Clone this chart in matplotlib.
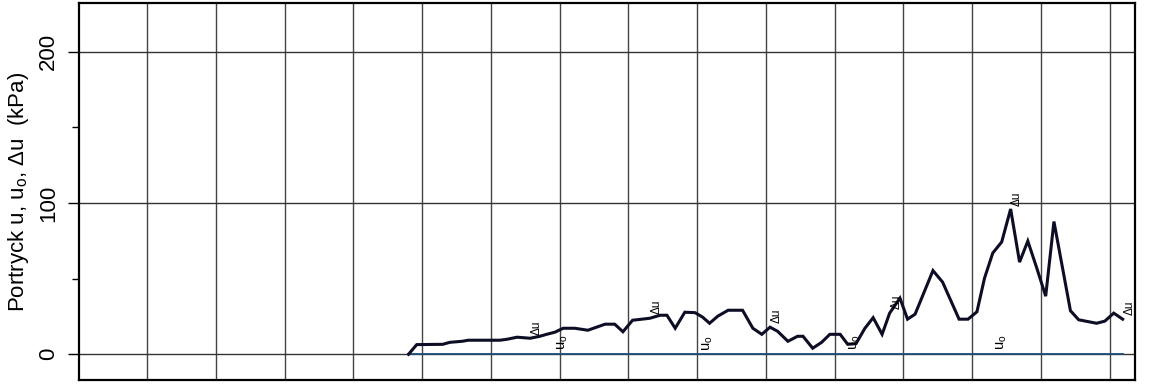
import matplotlib
matplotlib.use("Agg")
import matplotlib.pyplot as plt
from matplotlib.ticker import MultipleLocator

plt.rcParams['font.family'] = ['Liberation Sans', 'DejaVu Sans']
plt.rcParams['mathtext.fontset'] = 'custom'
plt.rcParams['mathtext.rm'] = 'Liberation Sans'
plt.rcParams['mathtext.it'] = 'Liberation Sans'

# Depth (m) and measured pore pressure u (kPa)
depth = [4.80, 4.92, 5.30, 5.40, 5.58, 5.67, 6.13, 6.23, 6.38, 6.57, 6.71, 6.81,
         6.93, 7.05, 7.22, 7.41, 7.66, 7.80, 7.92, 8.06, 8.31, 8.46, 8.56, 8.68,
         8.82, 8.97, 9.08, 9.18, 9.30, 9.45, 9.66, 9.81, 9.94, 10.06, 10.17, 10.32,
         10.46, 10.54, 10.68, 10.81, 10.93, 11.08, 11.19, 11.31, 11.44, 11.56, 11.69,
         11.80, 11.95, 12.06, 12.17, 12.43, 12.57, 12.81, 12.94, 13.07, 13.18, 13.30,
         13.43, 13.56, 13.69, 13.81, 13.94, 14.07, 14.19, 14.43, 14.55, 14.81, 14.93,
         15.06, 15.19]
u = [0.0, 6.4, 6.6, 7.9, 8.6, 9.3, 9.3, 9.9, 11.3, 10.6, 11.9, 13.2,
     14.6, 17.2, 17.2, 15.9, 19.9, 19.9, 14.9, 22.5, 23.8, 25.8, 25.8, 17.2,
     27.8, 27.5, 24.5, 20.5, 25.2, 29.1, 29.1, 17.2, 13.2, 17.9, 15.2, 8.6,
     11.9, 11.9, 4.0, 7.9, 13.2, 13.2, 6.6, 7.0, 17.2, 24.2, 13.2,
     27.2, 37.1, 23.2, 26.5, 55.3, 47.7, 23.2, 23.2, 28.1, 50.3, 66.9,
     74.2, 96.0, 60.9, 74.8, 57.0, 38.4, 87.7, 28.8, 22.8, 20.5, 21.9,
     27.2, 23.2]

# Hydrostatic pore pressure u0 (kPa)
u0_depth = [4.80, 15.19]
u0 = [0.0, 0.0]

# Curve annotations
du_label_depth = [6.67, 8.41, 10.16, 11.90, 13.65, 15.29]
du_label_value = [17.5, 31.5, 25.2, 35.0, 103.0, 30.5]
u0_label_depth = [7.05, 9.16, 11.29, 13.43]
u0_label_value = [7.9, 7.3, 7.9, 7.9]

fig = plt.figure(figsize=(11.5, 3.87), dpi=100)
ax = fig.add_axes([0.0683, 0.018, 0.9187, 0.974])

ax.set_xlim(0, 15.37)
ax.set_ylim(-17, 232)

# grid
for xg in range(1, 16):
    ax.axvline(xg, color='#444444', lw=1.0, zorder=1)
for yg in (0, 100, 200):
    ax.axhline(yg, color='#333333', lw=1.0, zorder=1)

ax.plot(u0_depth, u0, color='#1f4e79', lw=1.3, zorder=2)
ax.plot(depth, u, color='#0d0d26', lw=2.2, zorder=3, solid_joinstyle='miter')

for x, y in zip(du_label_depth, du_label_value):
    ax.text(x, y, 'Δu', rotation=90, fontsize=8.5, ha='center', va='center', zorder=4)
for x, y in zip(u0_label_depth, u0_label_value):
    ax.text(x, y, 'u$_\\mathrm{o}$', rotation=90, fontsize=10.5, ha='center', va='center', zorder=4)

ax.yaxis.set_major_locator(MultipleLocator(100))
ax.yaxis.set_minor_locator(MultipleLocator(50))
ax.tick_params(axis='y', which='major', direction='out', length=8, width=1.0,
               labelsize=16, pad=6, colors='black')
ax.tick_params(axis='y', which='minor', direction='out', length=5, width=1.0)
for lab in ax.get_yticklabels():
    lab.set_rotation(90)
    lab.set_va('center')
ax.set_xticks([])

ax.set_ylabel('Portryck u, u$_\\mathrm{o}$, Δu  (kPa)', fontsize=16, labelpad=5)

for s in ax.spines.values():
    s.set_linewidth(1.6)
    s.set_color('black')

fig.savefig('out.png', dpi=100)
